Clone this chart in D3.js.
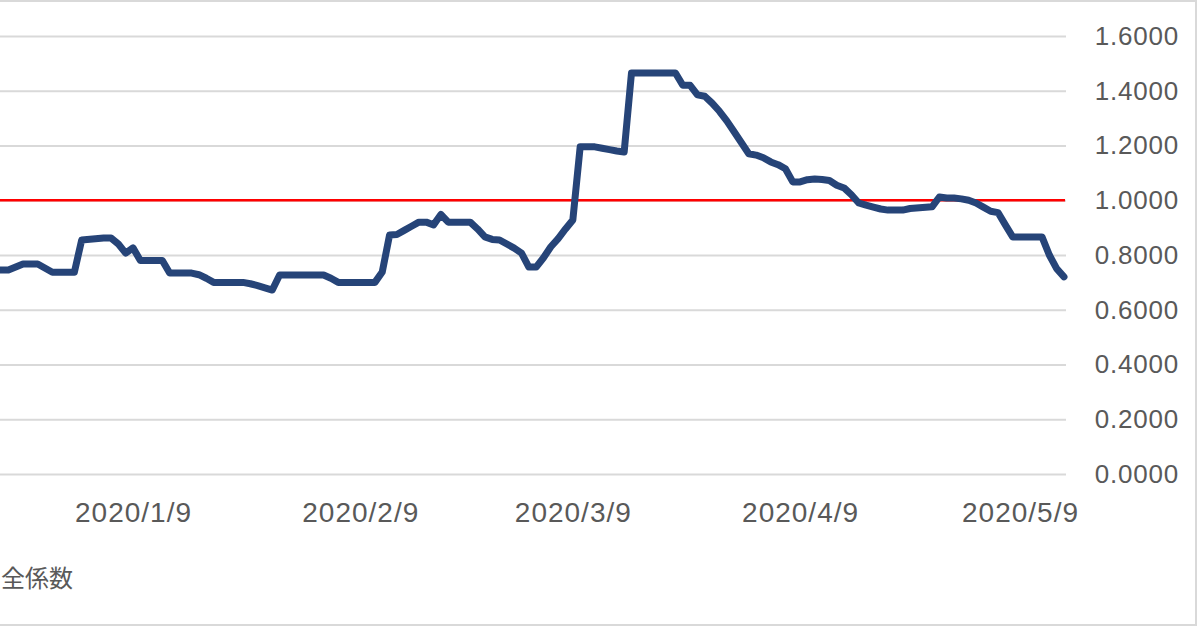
<!DOCTYPE html>
<html><head><meta charset="utf-8">
<script src="https://cdn.jsdelivr.net/npm/d3@7"></script>
<style>
html,body{margin:0;padding:0;background:#fff;overflow:hidden}
svg{display:block}
</style></head>
<body>
<svg id="chart" width="1200" height="629"></svg>
<script>
// ---- data ----
const dates = ["2019-12-20","2019-12-23","2019-12-25","2019-12-27","2019-12-29","2020-01-01","2020-01-02","2020-01-05","2020-01-06","2020-01-07","2020-01-08","2020-01-09","2020-01-10","2020-01-13","2020-01-14","2020-01-17","2020-01-18","2020-01-19","2020-01-20","2020-01-24","2020-01-25","2020-01-26","2020-01-27","2020-01-28","2020-01-29","2020-02-04","2020-02-05","2020-02-06","2020-02-11","2020-02-12","2020-02-13","2020-02-14","2020-02-15","2020-02-16","2020-02-17","2020-02-18","2020-02-19","2020-02-20","2020-02-21","2020-02-24","2020-02-25","2020-02-26","2020-02-27","2020-02-28","2020-02-29","2020-03-01","2020-03-02","2020-03-03","2020-03-04","2020-03-05","2020-03-06","2020-03-07","2020-03-08","2020-03-09","2020-03-10","2020-03-12","2020-03-13","2020-03-14","2020-03-15","2020-03-16","2020-03-17","2020-03-23","2020-03-24","2020-03-25","2020-03-26","2020-03-27","2020-03-28","2020-03-29","2020-03-30","2020-03-31","2020-04-01","2020-04-02","2020-04-03","2020-04-04","2020-04-05","2020-04-06","2020-04-07","2020-04-08","2020-04-09","2020-04-10","2020-04-11","2020-04-12","2020-04-13","2020-04-14","2020-04-15","2020-04-16","2020-04-17","2020-04-18","2020-04-19","2020-04-20","2020-04-21","2020-04-23","2020-04-24","2020-04-27","2020-04-28","2020-04-29","2020-04-30","2020-05-01","2020-05-02","2020-05-03","2020-05-04","2020-05-05","2020-05-06","2020-05-07","2020-05-08","2020-05-12","2020-05-13","2020-05-14","2020-05-15"];
const values = [0.745,0.745,0.767,0.767,0.737,0.737,0.855,0.862,0.862,0.84,0.807,0.826,0.78,0.78,0.734,0.734,0.728,0.715,0.70,0.70,0.695,0.688,0.68,0.672,0.727,0.727,0.715,0.70,0.70,0.738,0.873,0.875,0.89,0.905,0.92,0.92,0.91,0.948,0.92,0.92,0.895,0.866,0.857,0.855,0.84,0.825,0.807,0.756,0.756,0.79,0.83,0.86,0.895,0.928,1.195,1.195,1.19,1.185,1.18,1.176,1.465,1.465,1.42,1.42,1.385,1.38,1.355,1.325,1.29,1.25,1.21,1.17,1.165,1.155,1.14,1.13,1.115,1.067,1.067,1.075,1.078,1.076,1.072,1.055,1.045,1.02,0.99,0.982,0.975,0.968,0.964,0.964,0.97,0.976,1.012,1.008,1.008,1.005,1.0,0.99,0.975,0.96,0.955,0.91,0.866,0.866,0.80,0.75,0.72];
const thresholdValue = 1.0;
const yTicks = [0,0.2,0.4,0.6,0.8,1.0,1.2,1.4,1.6];
const xTickLabels = ["2020/1/9","2020/2/9","2020/3/9","2020/4/9","2020/5/9"];
const legendLabel = "全係数";

// ---- setup ----
const parse = d3.timeParse("%Y-%m-%d");
const parseTick = d3.timeParse("%Y/%m/%d");
const fmtTick = d3.timeFormat("%Y/%-m/%-d");
const series = dates.map((d,i)=>({date:parse(d), value:values[i]}));
const tickDates = xTickLabels.map(s=>parseTick(s));

const svg = d3.select("#chart");
const plotLeft = 0, plotRight = 1066, plotTop = 36, plotBottom = 474;

const x = d3.scaleTime().domain([tickDates[0], tickDates[tickDates.length-1]]).range([133, 1020]);
const y = d3.scaleLinear().domain([0,1.6]).range([plotBottom, plotTop]);

const font = "'Liberation Sans', Arial, sans-serif";
const textColor = "#595959";

// outer border
svg.append("rect").attr("x",-10).attr("y",1).attr("width",1206).attr("height",624)
  .attr("fill","none").attr("stroke","#d9d9d9").attr("stroke-width",2);

// gridlines
const grid = svg.append("g").attr("transform",`translate(${plotLeft},0)`)
  .call(d3.axisRight(y).tickValues(yTicks).tickSize(plotRight-plotLeft).tickFormat(""));
grid.select(".domain").remove();
grid.selectAll("line").attr("stroke","#d9d9d9").attr("stroke-width",2);

// y labels
const yAx = svg.append("g").attr("transform","translate(1179,0)")
  .call(d3.axisLeft(y).tickValues(yTicks).tickSize(0).tickPadding(0).tickFormat(d3.format(".4f")));
yAx.select(".domain").remove();
yAx.selectAll("text").attr("font-family",font).attr("font-size",26)
  .attr("letter-spacing","0.8px").attr("fill",textColor);

// x labels
const xAx = svg.append("g").attr("transform",`translate(0,${plotBottom})`)
  .call(d3.axisBottom(x).tickValues(tickDates).tickSize(0).tickPadding(28).tickFormat(fmtTick));
xAx.select(".domain").remove();
xAx.selectAll("text").attr("font-family",font).attr("font-size",28)
  .attr("letter-spacing","1px").attr("fill",textColor);

// threshold line
svg.append("line").attr("x1",plotLeft).attr("x2",plotRight-1)
  .attr("y1",y(thresholdValue)).attr("y2",y(thresholdValue))
  .attr("stroke","#ff0000").attr("stroke-width",2.5);

// main line
const line = d3.line().x(d=>x(d.date)).y(d=>y(d.value));
svg.append("path").datum(series).attr("d",line)
  .attr("fill","none").attr("stroke","#264478").attr("stroke-width",7)
  .attr("stroke-linejoin","round").attr("stroke-linecap","round");

// legend
svg.append("text").attr("x",1).attr("y",587)
  .attr("font-family","'Noto Sans CJK JP', sans-serif").attr("font-size",24)
  .attr("fill",textColor).text(legendLabel);
</script>
</body></html>
